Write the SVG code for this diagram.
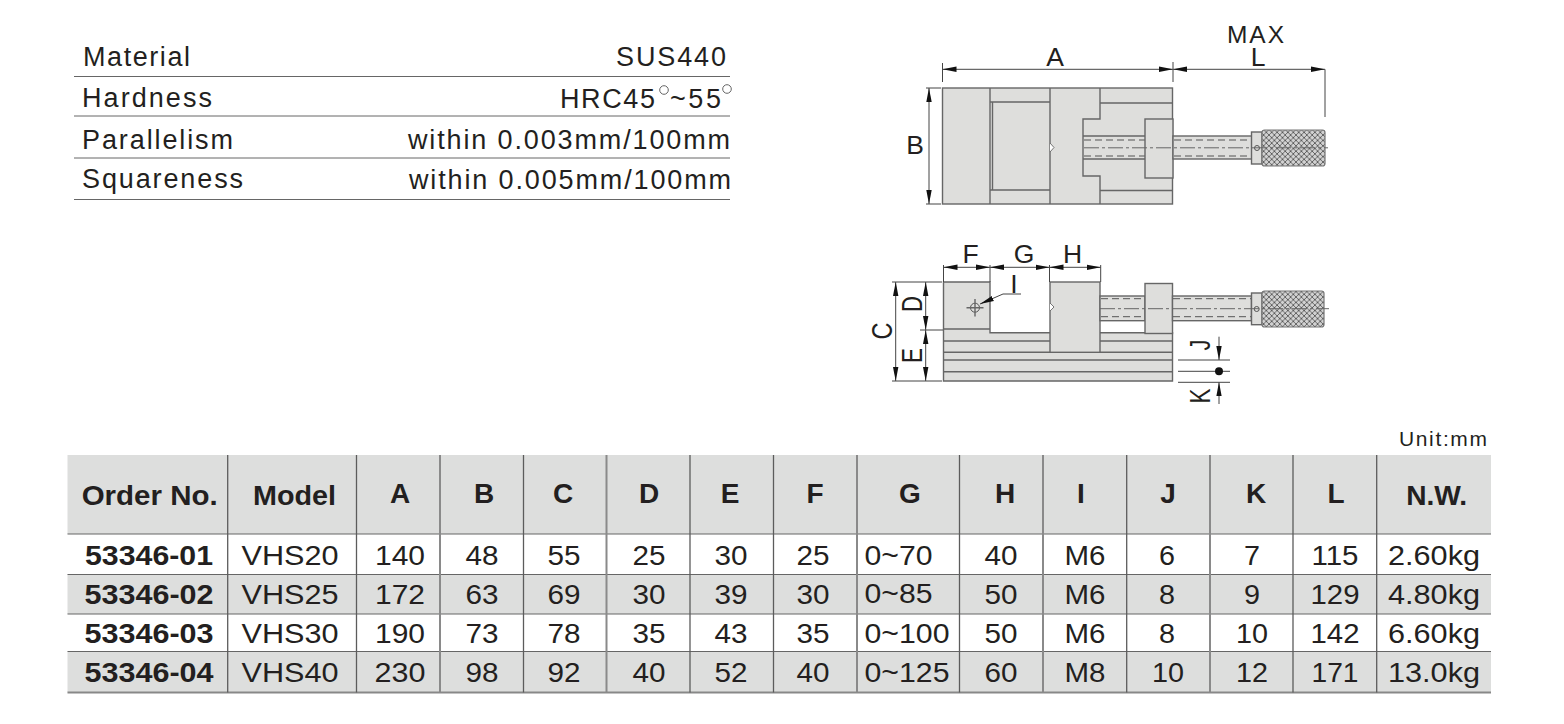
<svg xmlns="http://www.w3.org/2000/svg" width="1564" height="724" viewBox="0 0 1564 724">
<style>
text{font-family:"Liberation Sans",Arial,sans-serif;fill:#231f20}
.d{font-size:27.500px;text-anchor:middle}
.b{font-size:27px;font-weight:bold;text-anchor:middle}
.h{font-size:28px;font-weight:bold;text-anchor:middle}
.s{font-size:27px}
.l{font-size:26.500px;text-anchor:middle}
.g{font-size:27.500px}
.m{fill:#dededc;stroke:#666;stroke-width:1.4}
.ln{fill:none;stroke:#666;stroke-width:1.4}
.dim{fill:none;stroke:#444;stroke-width:1}
.ar{fill:none;stroke:#444;stroke-width:1;marker-start:url(#ah);marker-end:url(#ah)}
.ar1{fill:none;stroke:#444;stroke-width:1;marker-end:url(#ah)}
.dash{fill:none;stroke:#555;stroke-width:1;stroke-dasharray:7 4}
.cen{fill:none;stroke:#666;stroke-width:1;stroke-dasharray:15 3 3 3}
.gl{stroke:#666;stroke-width:1.2;fill:none}
.gv{stroke:#5c5c5c;stroke-width:1.3;fill:none}
.th{stroke:#8a8a8a;stroke-width:2;fill:none}
.sp{stroke:#666;stroke-width:1;fill:none}
.k{fill:url(#kn);stroke:#777;stroke-width:1.2}
.n{fill:#fff;stroke:#666;stroke-width:.9}
.v{font-size:28.600px;text-anchor:middle}
</style>
<defs>
<marker id="ah" markerUnits="userSpaceOnUse" markerWidth="16" markerHeight="8" viewBox="0 -4 16 8" refX="14" refY="0" orient="auto-start-reverse"><path d="M0,-2.700L14,0L0,2.700Z" fill="#111"/></marker>
<pattern id="kn" patternUnits="userSpaceOnUse" width="5.400" height="5.400"><rect width="5.400" height="5.400" fill="#d2d2d2"/><path d="M0,0L5.400,5.400M5.400,0L0,5.400" stroke="#4a4a4a" stroke-width=".8"/></pattern>
</defs>

<g id="spec-table">
<path class="sp" d="M74,76.500H730M74,116H730M74,158H730M74,199.500H730"/>
<text class="s" x="83" y="65.500" textLength="107" lengthAdjust="spacing">Material</text>
<text class="s" x="616" y="65.500" textLength="110" lengthAdjust="spacing">SUS440</text>
<text class="s" x="82" y="107" textLength="130" lengthAdjust="spacing">Hardness</text>
<text class="s" x="560" y="108" textLength="95" lengthAdjust="spacing">HRC45</text>
<circle class="sp" cx="664" cy="90" r="4.300"/>
<text class="s" x="670" y="108" textLength="51" lengthAdjust="spacing">~55</text>
<circle class="sp" cx="727" cy="89" r="4.300"/>
<text class="s" x="82" y="148.500" textLength="151" lengthAdjust="spacing">Parallelism</text>
<text class="s" x="408" y="148.500" textLength="322" lengthAdjust="spacing">within 0.003mm/100mm</text>
<text class="s" x="82" y="188" textLength="161" lengthAdjust="spacing">Squareness</text>
<text class="s" x="409" y="188.500" textLength="322" lengthAdjust="spacing">within 0.005mm/100mm</text>
</g>

<g id="top-view">
<rect class="m" x="942.500" y="88" width="230" height="116"/>
<path class="ln" d="M990,88V204M1050,88V204M1100,88V119H1083V176H1100V204M990,102H1050M990,190H1050M1100,103H1173M1100,190.500H1173M992.500,102V190"/>
<path class="ln" d="M1083,136H1145M1083,159H1145"/>
<path class="dash" d="M1084,140H1145M1084,156H1145"/>
<rect class="m" x="1145" y="119" width="28" height="59"/>
<rect class="m" x="1173" y="136" width="79" height="23"/>
<path class="dash" d="M1174,140H1251M1174,156H1251"/>
<rect class="m" x="1251.500" y="132" width="10.500" height="32"/>
<rect class="k" x="1262" y="130" width="63" height="36" rx="2.500"/>
<circle cx="1257" cy="148" r="2.500" fill="#dededc" stroke="#555"/>
<path class="cen" d="M1084,147.800H1328"/>
<path class="n" d="M1050,143L1054,147.500L1050,152"/>
</g>

<g id="side-view">
<path class="m" d="M943.500,282H990V329L990,332.700H1172.500V381H943.500Z"/>
<path class="ln" d="M943.500,329H990M943.500,341H1172.500M943.500,352.300H1172.500M943.500,360H1172.500M943.500,371.700H1172.500"/>
<rect class="m" x="1050" y="282" width="50" height="70.300"/>
<rect class="m" x="1100" y="296" width="45" height="24.700"/>
<path class="dash" d="M1101,298.700H1145M1101,316.700H1145"/>
<rect class="m" x="1145" y="283.500" width="27.500" height="50"/>
<rect class="m" x="1172.500" y="296" width="79" height="24.700"/>
<path class="dash" d="M1173,298.700H1251M1173,316.700H1251"/>
<rect class="m" x="1251.500" y="293" width="10.500" height="31.700"/>
<rect class="k" x="1262" y="291" width="62" height="36" rx="2.500"/>
<circle cx="1256.700" cy="309" r="2.500" fill="#dededc" stroke="#555"/>
<path class="cen" d="M1100,308.700H1329"/>
<path class="n" d="M1050,303L1054,307L1050,311"/>
<circle cx="975" cy="307.700" r="4.500" fill="none" stroke="#555"/>
<path class="ln" d="M975,299V316.500M966.500,307.700H983.500"/>
</g>

<g id="connectors">
<path class="ar" d="M942.500,69.300H1173"/>
<path class="ar" d="M1173,69.300H1325"/>
<path class="dim" d="M942.500,63V82M1173,62V82M1325,69.300V117"/>
<path class="ar" d="M929,88V204"/>
<path class="dim" d="M926,88H941M926,204H941"/>
<path class="ar" d="M943.500,267.300H990"/>
<path class="ar" d="M990,267.300H1049.500"/>
<path class="ar" d="M1049.500,267.300H1100.700"/>
<path class="dim" d="M943.500,265V282M990,265V282M1049.500,265V282M1100.700,265V282"/>
<path class="ar" d="M895.700,282V381"/>
<path class="ar" d="M925.700,282V330"/>
<path class="ar" d="M925.700,330V381"/>
<path class="dim" d="M892,282H942M892,381H942M920,330H943"/>
<path class="ar1" d="M1021,294H1003L980,304"/>
<path class="dim" d="M1178,360H1230M1178,371.300H1230M1178,382.300H1230"/>
<path class="ar1" d="M1219,336.700V360"/>
<path class="ar1" d="M1219,404V382.300"/>
<circle cx="1219" cy="371.300" r="4" fill="#111"/>
</g>

<g id="dimension-labels">
<text class="l" x="1055" y="65.700">A</text>
<text x="1227" y="42.700" style="font-size:24.500px" textLength="57" lengthAdjust="spacing">MAX</text>
<text class="l" x="1258" y="65.700">L</text>
<text class="l" x="915" y="154">B</text>
<text class="l" x="970.500" y="263.300">F</text>
<text class="l" x="1024" y="263.300">G</text>
<text class="l" x="1072.500" y="263.300">H</text>
<text class="l" x="1014" y="293.300">I</text>
<text class="v" transform="translate(891.700,331) rotate(-90)" textLength="17" lengthAdjust="spacingAndGlyphs">C</text>
<text class="v" transform="translate(922.300,304) rotate(-90)" textLength="16" lengthAdjust="spacingAndGlyphs">D</text>
<text class="v" transform="translate(922.300,355.500) rotate(-90)" textLength="15" lengthAdjust="spacingAndGlyphs">E</text>
<text class="v" transform="translate(1210,345) rotate(-90)" textLength="11" lengthAdjust="spacingAndGlyphs">J</text>
<text class="v" transform="translate(1210,396) rotate(-90)" textLength="15" lengthAdjust="spacingAndGlyphs">K</text>
</g>

<g id="data-table">
<text x="1399" y="445.500" style="font-size:21px" textLength="88" lengthAdjust="spacing">Unit:mm</text>
<rect x="67.500" y="455" width="1423.500" height="79" fill="#dddedd"/>
<rect x="67.500" y="574.500" width="1423.500" height="39.500" fill="#dddedd"/>
<rect x="67.500" y="651.500" width="1423.500" height="41" fill="#dddedd"/>
<path class="gl" d="M67.500,534H1491M67.500,574.500H1491M67.500,614H1491M67.500,651.500H1491"/>
<path d="M67.500,692.500H1491" stroke="#888" stroke-width="1.800" fill="none"/>
<path class="gv" d="M227.700,455V692.500M356.500,455V692.500M523.500,455V692.500M690,455V692.500M773.500,455V692.500M959.500,455V692.500M1126.700,455V692.500M1293,455V692.500M1376.700,455V692.500"/>
<path class="th" d="M440,455V692.500M606.500,455V692.500M857,455V692.500M1043,455V692.500M1210,455V692.500"/>

<text class="h" x="149.700" y="505" textLength="136" lengthAdjust="spacingAndGlyphs">Order No.</text>
<text class="h" x="294.500" y="505" textLength="83" lengthAdjust="spacingAndGlyphs">Model</text>
<text class="h" x="400" y="503">A</text><text class="h" x="484" y="503">B</text><text class="h" x="563" y="503">C</text><text class="h" x="649" y="503">D</text><text class="h" x="730" y="503">E</text><text class="h" x="815" y="503">F</text><text class="h" x="910" y="503">G</text><text class="h" x="1005" y="503">H</text><text class="h" x="1081" y="503">I</text><text class="h" x="1168" y="503">J</text><text class="h" x="1256" y="503">K</text><text class="h" x="1336" y="503">L</text>
<text class="h" x="1436.700" y="505" textLength="61" lengthAdjust="spacingAndGlyphs">N.W.</text>

<text class="b" x="149" y="565" textLength="128" lengthAdjust="spacingAndGlyphs">53346-01</text>
<text class="d" x="290" y="565" textLength="97" lengthAdjust="spacingAndGlyphs">VHS20</text>
<text class="d" x="400" y="565" textLength="50" lengthAdjust="spacingAndGlyphs">140</text>
<text class="d" x="482" y="565" textLength="33" lengthAdjust="spacingAndGlyphs">48</text>
<text class="d" x="564" y="565" textLength="33" lengthAdjust="spacingAndGlyphs">55</text>
<text class="d" x="649" y="565" textLength="33" lengthAdjust="spacingAndGlyphs">25</text>
<text class="d" x="731" y="565" textLength="33" lengthAdjust="spacingAndGlyphs">30</text>
<text class="d" x="813" y="565" textLength="33" lengthAdjust="spacingAndGlyphs">25</text>
<text class="g" x="864.500" y="565" textLength="68" lengthAdjust="spacingAndGlyphs">0~70</text>
<text class="d" x="1001" y="565" textLength="33" lengthAdjust="spacingAndGlyphs">40</text>
<text class="d" x="1085" y="565" textLength="41" lengthAdjust="spacingAndGlyphs">M6</text>
<text class="d" x="1167" y="565" textLength="16" lengthAdjust="spacingAndGlyphs">6</text>
<text class="d" x="1252" y="565" textLength="16" lengthAdjust="spacingAndGlyphs">7</text>
<text class="d" x="1335" y="565" textLength="47" lengthAdjust="spacingAndGlyphs">115</text>
<text class="d" x="1434" y="565" textLength="92" lengthAdjust="spacingAndGlyphs">2.60kg</text>

<text class="b" x="149" y="604" textLength="129" lengthAdjust="spacingAndGlyphs">53346-02</text>
<text class="d" x="290" y="604" textLength="97" lengthAdjust="spacingAndGlyphs">VHS25</text>
<text class="d" x="400" y="604" textLength="50" lengthAdjust="spacingAndGlyphs">172</text>
<text class="d" x="482" y="604" textLength="33" lengthAdjust="spacingAndGlyphs">63</text>
<text class="d" x="564" y="604" textLength="33" lengthAdjust="spacingAndGlyphs">69</text>
<text class="d" x="649" y="604" textLength="33" lengthAdjust="spacingAndGlyphs">30</text>
<text class="d" x="731" y="604" textLength="33" lengthAdjust="spacingAndGlyphs">39</text>
<text class="d" x="813" y="604" textLength="33" lengthAdjust="spacingAndGlyphs">30</text>
<text class="g" x="864.500" y="603" textLength="68" lengthAdjust="spacingAndGlyphs">0~85</text>
<text class="d" x="1001" y="604" textLength="33" lengthAdjust="spacingAndGlyphs">50</text>
<text class="d" x="1085" y="604" textLength="41" lengthAdjust="spacingAndGlyphs">M6</text>
<text class="d" x="1167" y="604" textLength="16" lengthAdjust="spacingAndGlyphs">8</text>
<text class="d" x="1252" y="604" textLength="16" lengthAdjust="spacingAndGlyphs">9</text>
<text class="d" x="1335" y="604" textLength="49" lengthAdjust="spacingAndGlyphs">129</text>
<text class="d" x="1434" y="604" textLength="92" lengthAdjust="spacingAndGlyphs">4.80kg</text>

<text class="b" x="149" y="643" textLength="129" lengthAdjust="spacingAndGlyphs">53346-03</text>
<text class="d" x="290" y="643" textLength="97" lengthAdjust="spacingAndGlyphs">VHS30</text>
<text class="d" x="400" y="643" textLength="50" lengthAdjust="spacingAndGlyphs">190</text>
<text class="d" x="482" y="643" textLength="33" lengthAdjust="spacingAndGlyphs">73</text>
<text class="d" x="564" y="643" textLength="33" lengthAdjust="spacingAndGlyphs">78</text>
<text class="d" x="649" y="643" textLength="33" lengthAdjust="spacingAndGlyphs">35</text>
<text class="d" x="731" y="643" textLength="33" lengthAdjust="spacingAndGlyphs">43</text>
<text class="d" x="813" y="643" textLength="33" lengthAdjust="spacingAndGlyphs">35</text>
<text class="g" x="864.500" y="643" textLength="85" lengthAdjust="spacingAndGlyphs">0~100</text>
<text class="d" x="1001" y="643" textLength="33" lengthAdjust="spacingAndGlyphs">50</text>
<text class="d" x="1085" y="643" textLength="41" lengthAdjust="spacingAndGlyphs">M6</text>
<text class="d" x="1167" y="643" textLength="16" lengthAdjust="spacingAndGlyphs">8</text>
<text class="d" x="1252" y="643" textLength="32" lengthAdjust="spacingAndGlyphs">10</text>
<text class="d" x="1335" y="643" textLength="49" lengthAdjust="spacingAndGlyphs">142</text>
<text class="d" x="1434" y="643" textLength="92" lengthAdjust="spacingAndGlyphs">6.60kg</text>

<text class="b" x="149" y="682" textLength="129" lengthAdjust="spacingAndGlyphs">53346-04</text>
<text class="d" x="290" y="682" textLength="97" lengthAdjust="spacingAndGlyphs">VHS40</text>
<text class="d" x="400" y="682" textLength="51" lengthAdjust="spacingAndGlyphs">230</text>
<text class="d" x="482" y="682" textLength="33" lengthAdjust="spacingAndGlyphs">98</text>
<text class="d" x="564" y="682" textLength="33" lengthAdjust="spacingAndGlyphs">92</text>
<text class="d" x="649" y="682" textLength="33" lengthAdjust="spacingAndGlyphs">40</text>
<text class="d" x="731" y="682" textLength="33" lengthAdjust="spacingAndGlyphs">52</text>
<text class="d" x="813" y="682" textLength="33" lengthAdjust="spacingAndGlyphs">40</text>
<text class="g" x="864.500" y="682" textLength="85" lengthAdjust="spacingAndGlyphs">0~125</text>
<text class="d" x="1001" y="682" textLength="33" lengthAdjust="spacingAndGlyphs">60</text>
<text class="d" x="1085" y="682" textLength="41" lengthAdjust="spacingAndGlyphs">M8</text>
<text class="d" x="1168" y="682" textLength="32" lengthAdjust="spacingAndGlyphs">10</text>
<text class="d" x="1252" y="682" textLength="32" lengthAdjust="spacingAndGlyphs">12</text>
<text class="d" x="1335" y="682" textLength="47" lengthAdjust="spacingAndGlyphs">171</text>
<text class="d" x="1434" y="682" textLength="92" lengthAdjust="spacingAndGlyphs">13.0kg</text>
</g>
</svg>
